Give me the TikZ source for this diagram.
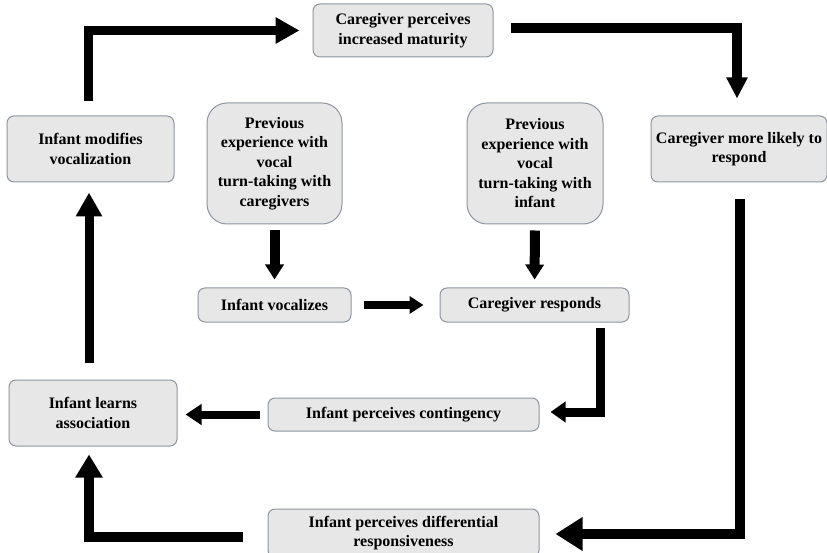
\documentclass[tikz,border=0pt]{standalone}
\usepackage{fontspec}
\setmainfont{Liberation Serif}
\usetikzlibrary{arrows.meta}
\definecolor{boxfill}{HTML}{E7E7E7}
\definecolor{boxline}{HTML}{8E95A0}
\begin{document}
\begin{tikzpicture}[x=1pt,y=-1pt,
  box/.style={draw=boxline,fill=boxfill,line width=1pt,rounded corners=7pt,inner sep=0pt,align=center,
    font=\fontsize{16}{19.5}\selectfont\bfseries},
  pbox/.style={box,rounded corners=20pt},
  arr/.style={draw=black,line width=9pt}]
\useasboundingbox (0,0) rectangle (827,553);
% nodes
\node[box,minimum width=180pt,minimum height=53pt] (mat) at (403,30.5) {Caregiver perceives\\increased maturity};
\node[box,minimum width=167pt,minimum height=66pt] (mod) at (90.5,149) {Infant modifies\\vocalization};
\node[pbox,minimum width=135pt,minimum height=121pt] (pc) at (274.5,163.5) {Previous\\experience with\\vocal\\turn-taking with\\caregivers};
\node[pbox,minimum width=136pt,minimum height=121pt] (pi) at (535,163.5) {Previous\\experience with\\vocal\\turn-taking with\\infant};
\node[box,minimum width=176pt,minimum height=66pt] (mor) at (739,149) {Caregiver more likely to\\respond};
\node[box,minimum width=153pt,minimum height=34pt] (voc) at (274.5,305) {Infant vocalizes};
\node[box,minimum width=189pt,minimum height=34pt] (resp) at (534.5,305) {Caregiver responds};
\node[box,minimum width=168pt,minimum height=66pt] (learn) at (93,413) {Infant learns\\association};
\node[box,minimum width=271pt,minimum height=33pt] (cont) at (403.5,414.5) {Infant perceives contingency};
\node[box,minimum width=271pt,minimum height=48pt] (dif) at (403.5,533) {Infant perceives differential\\responsiveness};
% connectors
\draw[arr,-{Triangle[length=24pt,width=25pt]},shorten <=14pt,shorten >=13pt]
  ([xshift=-2pt]mod.north) |- (mat.west);
\draw[arr,line width=10pt,-{Triangle[length=21pt,width=20pt]},shorten <=17pt,shorten >=17pt]
  ([yshift=2.5pt]mat.east) -| ([xshift=-2pt]mor.north);
\draw[arr,line width=10pt,-{Triangle[length=27pt,width=32pt]},shorten <=17pt,shorten >=16pt]
  ([xshift=1pt]mor.south) |- ([yshift=-1pt]dif.east);
\draw[arr,line width=10pt,-{Triangle[length=15pt,width=18pt]},shorten <=6pt,shorten >=8pt]
  (pc.south) -- (voc.north);
\draw[arr,line width=10pt,-{Triangle[length=15pt,width=18pt]},shorten <=6pt,shorten >=8pt]
  (pi.south) -- (resp.north);
\draw[arr,line width=7pt,-{Triangle[length=14pt,width=17pt]},shorten <=12pt,shorten >=16pt]
  (voc.east) -- (resp.west);
\draw[arr,line width=9pt,-{Triangle[length=15pt,width=20pt]},shorten <=5pt,shorten >=11pt]
  ([xshift=-29pt]resp.south east) |- ([yshift=2.5pt]cont.east);
\draw[arr,line width=8pt,-{Triangle[length=16pt,width=20pt]},shorten <=8pt,shorten >=8pt]
  (cont.west) -- (cont.west -| learn.east);
\draw[arr,line width=10pt,-{Triangle[length=23pt,width=26pt]},shorten <=25pt,shorten >=8pt]
  ([yshift=-4pt]dif.west) -| ([xshift=-4pt]learn.south);
\draw[arr,line width=9pt,-{Triangle[length=24pt,width=25pt]},shorten <=17pt,shorten >=10pt]
  ([xshift=-4pt]learn.north) -- ([xshift=-4pt]learn.north |- mod.south);
\end{tikzpicture}
\end{document}
